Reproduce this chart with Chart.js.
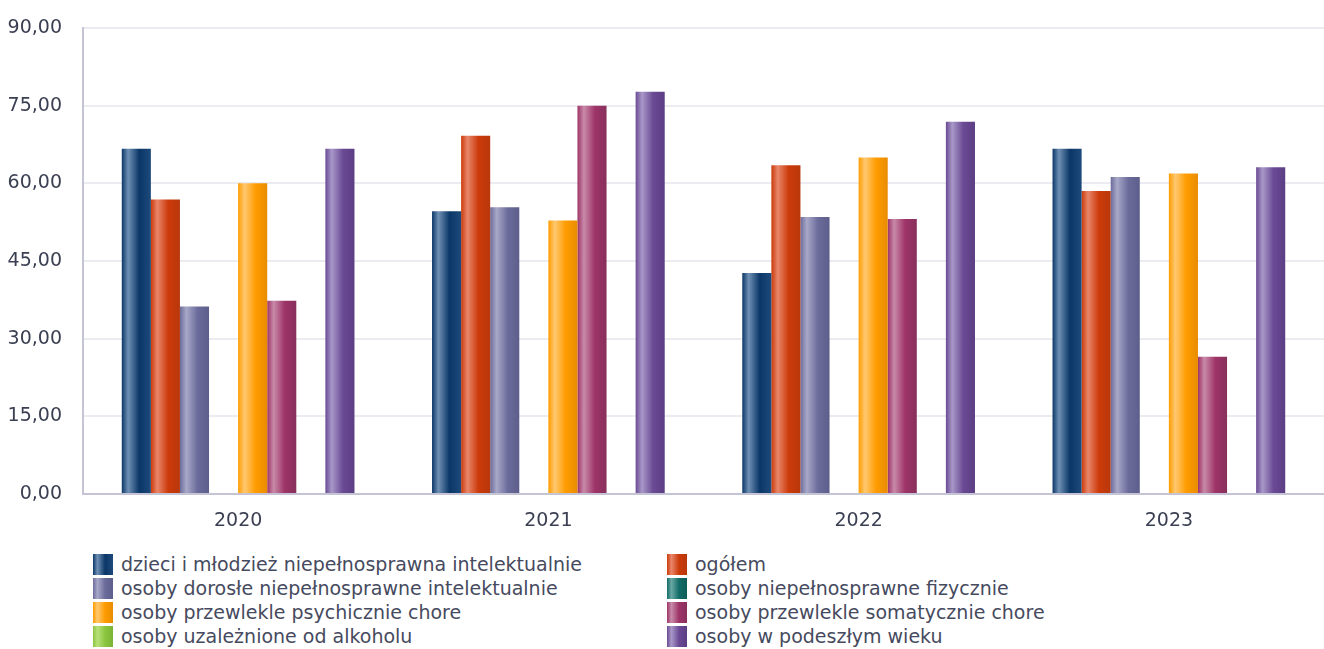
<!DOCTYPE html>
<html>
<head>
<meta charset="utf-8">
<script src="https://cdn.jsdelivr.net/npm/chart.js@4.4.1/dist/chart.umd.min.js"></script>
<style>
  body { margin: 0; background: #fff; font-family: "DejaVu Sans", sans-serif; }
  #wrap { position: relative; width: 1324px; height: 530px; }
  #legend { position: absolute; top: 552px; left: 93px; width: 1200px; }
  .item { position: absolute; height: 24px; line-height: 24px; font-size: 19px; color: #464a5e; white-space: nowrap; }
  .box { display: inline-block; width: 20px; height: 21px; vertical-align: -4px; margin-right: 8px; }
</style>
</head>
<body>
<div id="wrap"><canvas id="myChart"></canvas></div>
<div id="legend"></div>
<script>
"use strict"

// CATEGORIES
const years = ['2020', '2021', '2022', '2023'];

// SERIES NAMES
const seriesNames = [
    'dzieci i młodzież niepełnosprawna intelektualnie',
    'ogółem',
    'osoby dorosłe niepełnosprawne intelektualnie',
    'osoby niepełnosprawne fizycznie',
    'osoby przewlekle psychicznie chore',
    'osoby przewlekle somatycznie chore',
    'osoby uzależnione od alkoholu',
    'osoby w podeszłym wieku'
];

// SERIES VALUES
const dzieci = [66.67, 54.6, 42.7, 66.67];
const ogolem = [56.9, 69.2, 63.5, 58.5];
const dorosle = [36.2, 55.4, 53.5, 61.2];
const fizycznie = [null, null, null, null];
const psychicznie = [60.0, 52.8, 65.0, 61.9];
const somatycznie = [37.3, 75.0, 53.1, 26.5];
const alkohol = [null, null, null, null];
const wieku = [66.67, 77.7, 71.9, 63.1];

// Y TICKS
const yTicks = [0, 15, 30, 45, 60, 75, 90];

// COLOURS [light, base, dark]
const colours = [
    ['#6f90b4', '#0b3768', '#1d4a7a'],
    ['#e8866a', '#cc3a0a', '#b8380c'],
    ['#a8a8c8', '#6c6c9c', '#5e5e8c'],
    ['#6aa8a4', '#126c68', '#0e5c58'],
    ['#ffc870', '#ff9c00', '#e88c00'],
    ['#c88aa8', '#9e3468', '#88305c'],
    ['#b8e07a', '#8cc63f', '#7ab434'],
    ['#a898c8', '#6a4a94', '#5c3e84']
];

const allValues = [dzieci, ogolem, dorosle, fizycznie, psychicznie, somatycznie, alkohol, wieku];

// gradient across each bar, like a cylinder
function barGradient(ctx) {
    const chart = ctx.chart;
    const xs = chart.scales.x;
    const c = colours[ctx.datasetIndex];
    if (!chart.chartArea || !xs || ctx.dataIndex === undefined) return c[1];
    const catW = xs.width / years.length;
    const barW = catW * 0.75 / seriesNames.length;
    const center = xs.getPixelForValue(ctx.dataIndex);
    const left = center - catW * 0.75 / 2 + ctx.datasetIndex * barW;
    if (!isFinite(left) || !isFinite(barW) || barW <= 0) return c[1];
    const g = chart.ctx.createLinearGradient(left, 0, left + barW, 0);
    g.addColorStop(0, c[1]);
    g.addColorStop(0.22, c[0]);
    g.addColorStop(0.6, c[1]);
    g.addColorStop(1, c[2]);
    return g;
}

const data = {
    labels: years,
    datasets: seriesNames.map((name, i) => ({
        label: name,
        data: allValues[i],
        backgroundColor: barGradient,
        borderWidth: 0,
        categoryPercentage: 0.75,
        barPercentage: 1
    }))
};

const tickFont = { family: '"DejaVu Sans", sans-serif', size: 19 };

const config = {
    type: 'bar',
    data: data,
    options: {
        responsive: false,
        animation: false,
        layout: { padding: { top: 28, right: -3, left: 0, bottom: 0 } },
        plugins: {
            legend: { display: false },
            tooltip: { enabled: false }
        },
        scales: {
            x: {
                grid: { display: false },
                border: { display: false },
                ticks: { color: '#3a3f52', font: tickFont, padding: 8 },
                afterFit: (s) => { s.height = 36; s.paddingLeft = 0; s.paddingRight = 0; }
            },
            y: {
                min: 0,
                max: 90,
                afterBuildTicks: (s) => { s.ticks = yTicks.map(v => ({ value: v })); },
                grid: {
                    color: (ctx) => (ctx.tick && ctx.tick.value === 0) ? '#c4c4d4' : '#ebebf2',
                    lineWidth: 2,
                    drawTicks: false
                },
                border: { color: '#c4c4d4', width: 2 },
                ticks: {
                    color: '#3a3f52',
                    font: tickFont,
                    padding: 21,
                    callback: (v) => v.toFixed(2).replace('.', ',')
                },
                afterFit: (s) => { s.width = 83; s.paddingTop = 0; s.paddingBottom = 0; }
            }
        }
    }
};

const canvas = document.getElementById('myChart');
canvas.width = 1324;
canvas.height = 530;
const myChart = new Chart(canvas, config);

// HTML LEGEND, two columns
const legend = document.getElementById('legend');
seriesNames.forEach((name, i) => {
    const c = colours[i];
    const item = document.createElement('div');
    item.className = 'item';
    item.style.left = (i % 2 === 0 ? 0 : 574) + 'px';
    item.style.top = (Math.floor(i / 2) * 24) + 'px';
    item.innerHTML = '<span class="box" style="background: linear-gradient(to right, ' +
        c[1] + ' 0%, ' + c[0] + ' 22%, ' + c[1] + ' 60%, ' + c[2] + ' 100%)"></span>' + name;
    legend.appendChild(item);
});
</script>
</body>
</html>
